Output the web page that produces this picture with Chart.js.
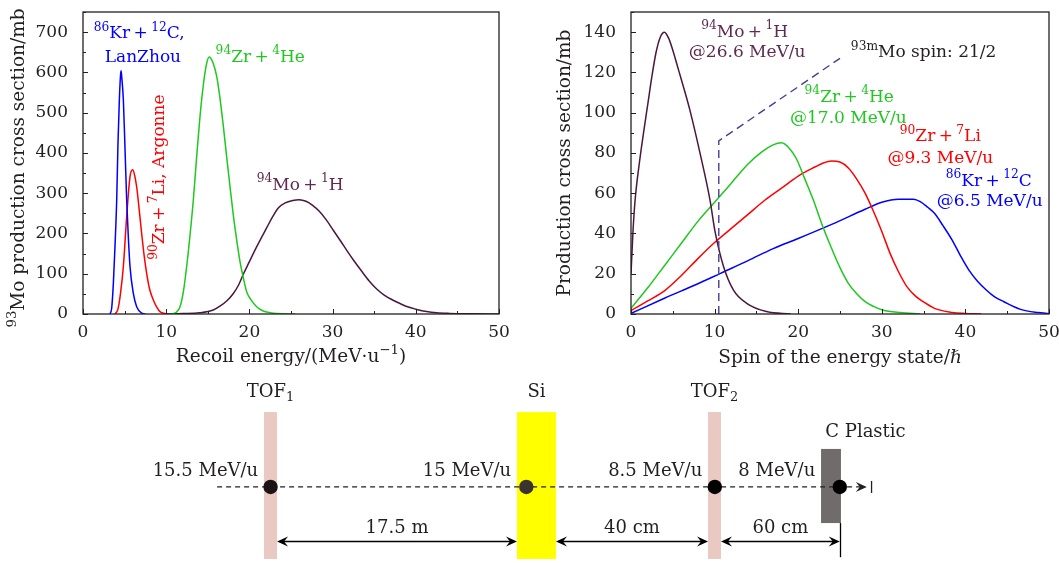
<!DOCTYPE html>
<html>
<head>
<meta charset="utf-8">
<script src="https://cdn.jsdelivr.net/npm/chart.js@4.4.0/dist/chart.umd.min.js"></script>
<style>
  html, body { margin: 0; padding: 0; background: #fff; }
  #wrap { position: relative; width: 1059px; height: 563px; overflow: hidden; }
  canvas { position: absolute; }
</style>
</head>
<body>
<div id="wrap">
  <canvas id="recoil" width="520" height="370" style="left:0;top:0"></canvas>
  <canvas id="spin" width="539" height="370" style="left:520px;top:0"></canvas>
  <canvas id="beamline" width="1059" height="193" style="left:0;top:370px"></canvas>
</div>
<script>
// ---- recoil energy (MeV/u) vs 93Mo cross section (mb) ----
const krcRecoilE  = [3.25, 3.45, 3.65, 3.85, 4.05, 4.2, 4.37, 4.5, 4.57, 4.65, 4.85, 5.05, 5.25, 5.45, 5.65, 6.05, 6.45, 7.05, 7.5];
const krcRecoilMb = [0, 15, 76, 170, 283, 420, 532, 590, 604, 590, 532, 410, 283, 190, 118, 51, 18, 2, 0];

const zrliRecoilE  = [3.85, 4.2, 4.5, 4.85, 5.25, 5.65, 5.97, 6.2, 6.45, 6.75, 7.05, 7.35, 7.65, 8.0, 8.45, 8.9, 9.25, 9.7, 10.1];
const zrliRecoilMb = [0, 12, 50, 118, 242, 341, 358, 345, 316, 260, 200, 145, 101, 62, 35, 16, 6, 2, 0];

const zrheRecoilE  = [10.5, 10.85, 11.2, 11.66, 12.06, 12.46, 12.86, 13.26, 13.66, 14.06, 14.47, 14.87, 15.18, 15.6, 16.07, 16.47, 16.87, 17.27, 17.67, 18.07, 18.47, 18.87, 19.27, 19.67, 20.2, 20.87, 21.6, 22.5, 23.3, 25.5];
const zrheRecoilMb = [0, 1, 4, 18, 55, 118, 195, 283, 390, 490, 570, 623, 638, 625, 590, 535, 466, 390, 316, 245, 184, 130, 90, 55, 35, 18, 8, 3, 1, 0];

const mohRecoilE  = [10, 12, 14, 15.66, 16.5, 17.3, 18.07, 18.7, 19.25, 20.0, 20.7, 21.4, 22.1, 22.8, 23.5, 24.3, 25.2, 26.0, 26.8, 27.6, 28.4, 29.2, 30.08, 31.0, 31.7, 32.5, 33.5, 34.4, 35.3, 36.2, 37.1, 38.1, 39.0, 40.0, 41.3, 42.5, 44, 47, 50];
const mohRecoilMb = [0, 1, 3, 10, 20, 33, 51, 72, 98, 130, 160, 188, 215, 242, 264, 276, 282, 284, 280, 270, 255, 235, 208, 180, 158, 134, 106, 82, 62, 47, 36, 26, 18, 12, 6, 3, 1.5, 0.5, 0];

// ---- spin (hbar) vs production cross section (mb) ----
const mohSpin   = [0, 0.25, 0.5, 1, 1.5, 2, 2.5, 3, 3.5, 4, 4.5, 5, 5.7, 6.4, 7.06, 8.25, 9.45, 10.05, 11.04, 12.24, 13.84, 16.2, 19.1];
const mohSpinMb = [20, 42, 57, 75, 90, 104, 118, 130, 137.5, 140, 137, 131, 121, 111, 101, 80, 56.6, 41, 24, 12, 5.3, 1.2, 0];

const zrheSpin   = [0, 2, 4, 6, 8, 10, 12, 14, 15.65, 17, 18, 19, 19.8, 20.8, 21.8, 22.8, 23.9, 25, 26, 27, 28, 29, 30.1, 32.2, 34.6];
const zrheSpinMb = [2.8, 13, 24, 35, 46, 55.5, 65, 74.5, 80.5, 84, 85, 82, 77, 67, 56.7, 45, 33.5, 23, 15.2, 10, 6.1, 3.8, 2, 0.7, 0];

const zrliSpin   = [0, 2, 4, 6, 8, 10, 12, 14, 16, 18, 20, 22, 23, 24, 25, 26, 27, 28, 29, 30, 31, 32, 33, 34, 35, 36.3, 38.4, 40, 41.9];
const zrliSpinMb = [1.7, 6.5, 11.5, 19, 27.5, 35.5, 42.5, 49.5, 56.5, 62.5, 68.5, 73, 75, 76, 75.5, 72.5, 67, 60, 51, 41, 30, 21, 13.6, 9, 6, 2.8, 0.8, 0.3, 0];

const krcSpin   = [0, 4, 8, 10.7, 14, 17, 20, 24, 28, 30, 32, 33.8, 34.6, 35.5, 36.3, 37.3, 38.4, 39.4, 40.4, 41.5, 42.5, 43.5, 44.6, 46.6, 48.7, 50];
const krcSpinMb = [0.3, 7.8, 15, 20.2, 26.5, 32.5, 37.5, 44.5, 52, 55.5, 57, 57, 55.8, 53, 50, 44, 36.8, 29, 21.9, 16, 11.9, 8.5, 6.1, 2.3, 0.7, 0.2];

// 93mMo spin 21/2 marker
const isomerSpin = [10.5, 10.5, 25];
const isomerMb   = [0, 86, 127];

// ---- beamline sketch ----
const stationNames = ['TOF_{1}', 'Si', 'TOF_{2}', 'C Plastic'];
const beamEnergies = ['15.5 MeV/u', '15 MeV/u', '8.5 MeV/u', '8 MeV/u'];
const gapLabels    = ['17.5 m', '40 cm', '60 cm'];

const FONT = 'DejaVu Serif';
const BLUE = '#0000ff', RED = '#ff0000', GREEN = '#1ec81e', PURPLE = '#4a173f', PURPLE_TXT = '#5e2a52', INK = '#231f20';

const xy = (xs, ys) => xs.map((v, i) => ({ x: v, y: ys[i] }));

function parseRich(str) {
  const segs = [];
  const re = /(\^|_)\{([^}]*)\}/g;
  let last = 0, m;
  while ((m = re.exec(str))) {
    if (m.index > last) segs.push({ t: str.slice(last, m.index), k: 0 });
    segs.push({ t: m[2], k: m[1] === '^' ? 1 : -1 });
    last = re.lastIndex;
  }
  if (last < str.length) segs.push({ t: str.slice(last), k: 0 });
  return segs;
}

function drawRich(ctx, str, x, y, o) {
  const size = o.size || 17;
  const segs = parseRich(str);
  ctx.save();
  ctx.translate(x, y);
  if (o.rotate) ctx.rotate(o.rotate);
  ctx.textBaseline = 'middle';
  ctx.textAlign = 'left';
  ctx.fillStyle = o.color || INK;
  let total = 0;
  segs.forEach(s => {
    ctx.font = (s.k ? size * 0.72 : size) + 'px "' + FONT + '"';
    s.w = ctx.measureText(s.t).width;
    total += s.w;
  });
  let cx = o.align === 'right' ? -total : o.align === 'left' ? 0 : -total / 2;
  segs.forEach(s => {
    ctx.font = (s.k ? size * 0.72 : size) + 'px "' + FONT + '"';
    const dy = s.k === 1 ? -size * 0.36 : s.k === -1 ? size * 0.3 : 0;
    ctx.fillText(s.t, cx, dy);
    cx += s.w;
  });
  ctx.restore();
}

// frame + inward ticks (major and minor)
const frameTicks = {
  id: 'frameTicks',
  afterDatasetsDraw(chart, args, opts) {
    const { ctx, chartArea: a, scales: { x, y } } = chart;
    ctx.save();
    ctx.strokeStyle = INK;
    ctx.lineWidth = 1.3;
    ctx.strokeRect(a.left, a.top, a.right - a.left, a.bottom - a.top);
    ctx.lineWidth = 1;
    ctx.beginPath();
    for (let v = x.min; v <= x.max + 1e-9; v += opts.xMinor) {
      const px = Math.round(x.getPixelForValue(v)) + 0.5;
      const len = Math.abs(v / opts.xStep - Math.round(v / opts.xStep)) < 1e-6 ? 5 : 3;
      ctx.moveTo(px, a.bottom); ctx.lineTo(px, a.bottom - len);
    }
    for (let v = y.min; v <= y.max + 1e-9; v += opts.yMinor) {
      const py = Math.round(y.getPixelForValue(v)) + 0.5;
      const len = Math.abs(v / opts.yStep - Math.round(v / opts.yStep)) < 1e-6 ? 5 : 3;
      ctx.moveTo(a.left, py); ctx.lineTo(a.left + len, py);
    }
    ctx.stroke();
    ctx.restore();
  }
};

function labelPlugin(items, titles) {
  return {
    id: 'labels',
    afterDraw(chart) {
      const { ctx, scales: { x, y } } = chart;
      items.forEach(it => drawRich(ctx, it.t, x.getPixelForValue(it.x), y.getPixelForValue(it.y),
        { color: it.c, size: 17, rotate: it.rot ? it.rot * Math.PI / 180 : 0 }));
      titles.forEach(t => drawRich(ctx, t.t, t.x, t.y, { size: 18.5, color: INK, rotate: t.rot ? t.rot * Math.PI / 180 : 0 }));
    }
  };
}

function lineSet(pts, color, extra) {
  return Object.assign({ data: pts, borderColor: color, borderWidth: 1.5, pointRadius: 0,
    cubicInterpolationMode: 'monotone', fill: false }, extra || {});
}

function axisOpts(min, max, step, fitSize, horizontal) {
  return {
    type: 'linear', min: min, max: max,
    grid: { display: false }, border: { display: false },
    ticks: { stepSize: step, color: INK, font: { family: FONT, size: 17 }, padding: horizontal ? 0 : 7, maxRotation: 0 },
    afterBuildTicks(s) { s.ticks = s.ticks.filter(t => Math.abs(t.value / step - Math.round(t.value / step)) < 1e-6); },
    afterFit(s) {
      if (horizontal) { s.height = fitSize; s.paddingLeft = 0; s.paddingRight = 0; }
      else { s.width = fitSize; s.paddingTop = 0; s.paddingBottom = 0; }
    }
  };
}

const baseOpts = {
  responsive: false, animation: false, events: [], devicePixelRatio: 1,
  plugins: { legend: { display: false }, tooltip: { enabled: false } }
};

// left chart
new Chart(document.getElementById('recoil'), {
  type: 'line',
  data: { datasets: [
    lineSet(xy(krcRecoilE, krcRecoilMb), BLUE),
    lineSet(xy(zrliRecoilE, zrliRecoilMb), RED),
    lineSet(xy(zrheRecoilE, zrheRecoilMb), GREEN),
    lineSet(xy(mohRecoilE, mohRecoilMb), PURPLE)
  ] },
  options: Object.assign({}, baseOpts, {
    layout: { autoPadding: false, padding: { left: 0, right: 21, top: 12, bottom: 0 } },
    scales: { x: axisOpts(0, 50, 10, 56, true), y: axisOpts(0, 750, 100, 83, false) },
    plugins: Object.assign({}, baseOpts.plugins, { frameTicks: { xStep: 10, xMinor: 5, yStep: 100, yMinor: 50 } })
  }),
  plugins: [frameTicks, labelPlugin([
    { t: '^{86}Kr\u2009+\u2009^{12}C,', x: 6.75, y: 696, c: BLUE },
    { t: 'LanZhou', x: 7.2, y: 638, c: BLUE },
    { t: '^{94}Zr\u2009+\u2009^{4}He', x: 21.3, y: 638, c: GREEN },
    { t: '^{90}Zr\u2009+\u2009^{7}Li, Argonne', x: 9.25, y: 340, c: RED, rot: -90 },
    { t: '^{94}Mo\u2009+\u2009^{1}H', x: 26.1, y: 320, c: PURPLE_TXT }
  ], [
    { t: 'Recoil energy/(MeV\u00b7u^{\u22121})', x: 291, y: 357 },
    { t: '^{93}Mo production cross section/mb', x: 19, y: 168, rot: -90 }
  ])]
});

// right chart
new Chart(document.getElementById('spin'), {
  type: 'line',
  data: { datasets: [
    lineSet(xy(isomerSpin, isomerMb), '#4b3c96', { borderWidth: 1.4, borderDash: [8, 5], cubicInterpolationMode: 'default', tension: 0 }),
    lineSet(xy(mohSpin, mohSpinMb), PURPLE),
    lineSet(xy(zrheSpin, zrheSpinMb), GREEN),
    lineSet(xy(zrliSpin, zrliSpinMb), RED),
    lineSet(xy(krcSpin, krcSpinMb), BLUE)
  ] },
  options: Object.assign({}, baseOpts, {
    layout: { autoPadding: false, padding: { left: 0, right: 10, top: 12, bottom: 0 } },
    scales: { x: axisOpts(0, 50, 10, 56, true), y: axisOpts(0, 150, 20, 111, false) },
    plugins: Object.assign({}, baseOpts.plugins, { frameTicks: { xStep: 10, xMinor: 5, yStep: 20, yMinor: 10 } })
  }),
  plugins: [frameTicks, labelPlugin([
    { t: '^{94}Mo\u2009+\u2009^{1}H', x: 13.6, y: 140, c: PURPLE_TXT },
    { t: '@26.6 MeV/u', x: 13.9, y: 129.6, c: PURPLE_TXT },
    { t: '^{93m}Mo spin: 21/2', x: 35.0, y: 129.6, c: INK },
    { t: '^{94}Zr\u2009+\u2009^{4}He', x: 26.1, y: 107.7, c: GREEN },
    { t: '@17.0 MeV/u', x: 26.0, y: 97.3, c: GREEN },
    { t: '^{90}Zr\u2009+\u2009^{7}Li', x: 37.0, y: 88, c: RED },
    { t: '@9.3 MeV/u', x: 37.0, y: 77, c: RED },
    { t: '^{86}Kr\u2009+\u2009^{12}C', x: 42.8, y: 66, c: BLUE },
    { t: '@6.5 MeV/u', x: 42.9, y: 55.6, c: BLUE }
  ], [
    { t: 'Spin of the energy state/\u210f', x: 320, y: 358 },
    { t: 'Production cross section/mb', x: 45, y: 163, rot: -90 }
  ])]
});

// beamline sketch: layout in percent of the panel (x from left, y from bottom)
const dotX = [25.55, 49.7, 67.5, 79.3];
const beamY = 39.4;
const detRects = [
  { x0: 24.93, x1: 26.16, y0: 2.1, y1: 78.2, c: '#e9c9c1' },
  { x0: 48.82, x1: 52.5, y0: 2.1, y1: 78.2, c: '#ffff00' },
  { x0: 66.86, x1: 68.08, y0: 2.1, y1: 78.2, c: '#e9c9c1' },
  { x0: 77.53, x1: 79.41, y0: 20.7, y1: 59.1, c: '#716c6c' }
];
const nameY = [88.6, 88.6, 88.6, 67.9];
const gapSpans = [[26.16, 48.82], [52.5, 66.86], [68.08, 79.3]];

function arrowHead(ctx, x, y, dir) {
  ctx.beginPath();
  ctx.moveTo(x, y);
  ctx.lineTo(x - dir * 11, y - 5);
  ctx.lineTo(x - dir * 7, y);
  ctx.lineTo(x - dir * 11, y + 5);
  ctx.closePath();
  ctx.fill();
}

const beamPlugin = {
  id: 'beam',
  beforeDatasetsDraw(chart) {
    const { ctx, scales: { x, y } } = chart;
    detRects.forEach(r => {
      ctx.fillStyle = r.c;
      const px0 = x.getPixelForValue(r.x0), px1 = x.getPixelForValue(r.x1);
      const py1 = y.getPixelForValue(r.y1), py0 = y.getPixelForValue(r.y0);
      ctx.fillRect(px0, py1, px1 - px0, py0 - py1);
    });
  },
  afterDatasetsDraw(chart) {
    const { ctx, scales: { x, y } } = chart;
    ctx.save();
    // labels
    stationNames.forEach((n, i) => {
      if (i < 3) drawRich(ctx, n, x.getPixelForValue((detRects[i].x0 + detRects[i].x1) / 2), y.getPixelForValue(nameY[i]), { size: 18, color: INK });
      else drawRich(ctx, n, x.getPixelForValue(detRects[i].x0 + 0.4), y.getPixelForValue(nameY[i]), { size: 18, color: INK, align: 'left' });
    });
    beamEnergies.forEach((e, i) => {
      drawRich(ctx, e, x.getPixelForValue(detRects[i].x0 - 0.55), y.getPixelForValue(47.7), { size: 18, color: INK, align: 'right' });
    });
    // beam end arrow
    ctx.fillStyle = INK; ctx.strokeStyle = INK; ctx.lineWidth = 1.3;
    const by = y.getPixelForValue(beamY);
    arrowHead(ctx, x.getPixelForValue(81.85), by, 1);
    ctx.beginPath();
    ctx.moveTo(x.getPixelForValue(82.3), by - 6); ctx.lineTo(x.getPixelForValue(82.3), by + 6);
    ctx.stroke();
    // distance arrows
    ctx.fillStyle = '#000'; ctx.strokeStyle = '#000';
    const ay = Math.round(y.getPixelForValue(11.4)) + 0.5;
    gapSpans.forEach((g, i) => {
      const a = x.getPixelForValue(g[0]), b = x.getPixelForValue(g[1]);
      ctx.beginPath(); ctx.moveTo(a + 4, ay); ctx.lineTo(b - 4, ay); ctx.stroke();
      arrowHead(ctx, a, ay, -1);
      arrowHead(ctx, b, ay, 1);
      drawRich(ctx, gapLabels[i], (a + b) / 2, y.getPixelForValue(18.1), { size: 18, color: INK });
    });
    // tie line below the C plastic
    const cx = Math.round(x.getPixelForValue(79.3)) + 0.5;
    ctx.beginPath(); ctx.moveTo(cx, y.getPixelForValue(20.7)); ctx.lineTo(cx, y.getPixelForValue(3)); ctx.stroke();
    ctx.restore();
  }
};

new Chart(document.getElementById('beamline'), {
  type: 'scatter',
  data: { datasets: [
    { data: dotX.map(v => ({ x: v, y: beamY })), pointRadius: 7.2, borderWidth: 0,
      pointBackgroundColor: ['#1c1414', '#3b3232', '#000000', '#000000'] },
    { type: 'line', data: [{ x: 20.5, y: beamY }, { x: 81.2, y: beamY }], borderColor: INK, borderWidth: 1.3,
      borderDash: [5, 4], pointRadius: 0 }
  ] },
  options: Object.assign({}, baseOpts, {
    layout: { autoPadding: false, padding: 0 },
    scales: { x: { type: 'linear', min: 0, max: 100, display: false }, y: { type: 'linear', min: 0, max: 100, display: false } }
  }),
  plugins: [beamPlugin]
});
</script>
</body>
</html>
